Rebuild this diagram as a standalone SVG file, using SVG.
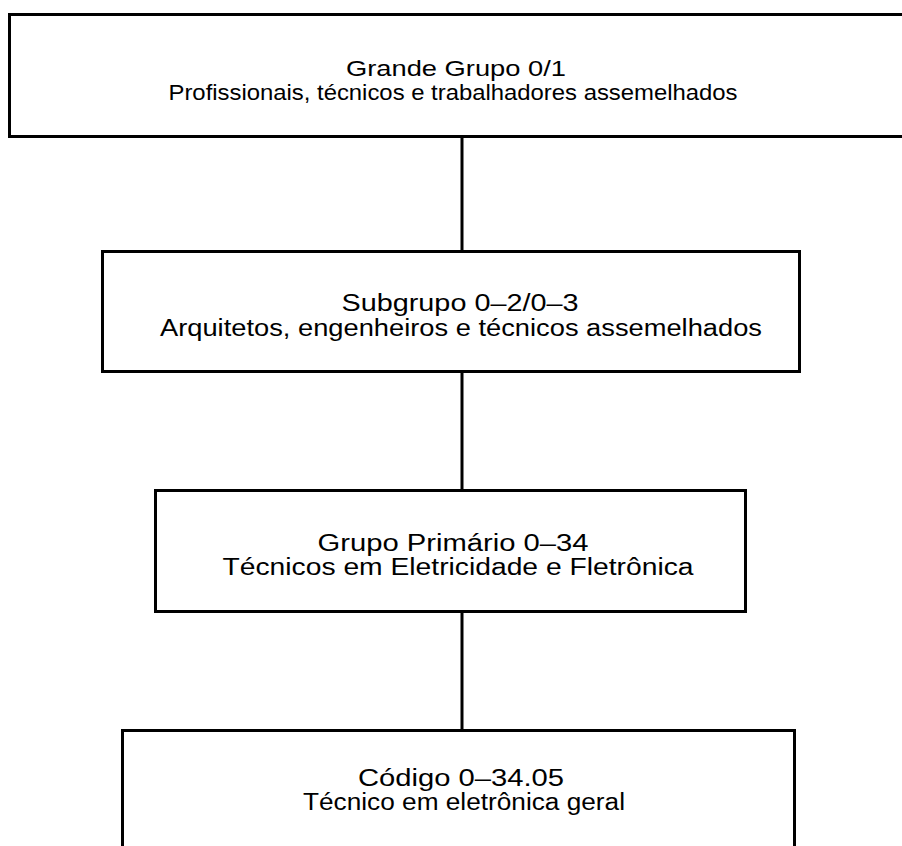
<svg xmlns="http://www.w3.org/2000/svg" width="902" height="846" viewBox="0 0 902 846">
  <style>
    .box { fill: #ffffff; stroke: #000000; stroke-width: 3; }
    .link { stroke: #000000; stroke-width: 3; fill: none; }
    .t { font-family: "Liberation Sans", Arial, sans-serif; font-size: 23px; fill: #000000; text-anchor: middle; }
    .t1 { font-size: 22px; }
  </style>
  <rect width="902" height="846" fill="#ffffff"/>

  <!-- vertical links between levels -->
  <g id="connectors">
    <line class="link" x1="462" y1="137" x2="462" y2="251"/>
    <line class="link" x1="462" y1="372" x2="462" y2="490"/>
    <line class="link" x1="462" y1="612" x2="462" y2="730"/>
  </g>

  <g id="grande-grupo">
    <rect class="box" x="9.5" y="14.5" width="900" height="122"/>
    <text class="t t1" x="456" y="76" textLength="220" lengthAdjust="spacingAndGlyphs">Grande Grupo 0/1</text>
    <text class="t t1" x="453" y="100" textLength="569" lengthAdjust="spacingAndGlyphs">Profissionais, técnicos e trabalhadores assemelhados</text>
  </g>

  <g id="subgrupo">
    <rect class="box" x="102.5" y="251.5" width="697" height="120"/>
    <text class="t" x="460" y="311" textLength="237" lengthAdjust="spacingAndGlyphs">Subgrupo 0–2/0–3</text>
    <text class="t" x="461" y="336" textLength="602" lengthAdjust="spacingAndGlyphs">Arquitetos, engenheiros e técnicos assemelhados</text>
  </g>

  <g id="grupo-primario">
    <rect class="box" x="155.5" y="490.5" width="590" height="121"/>
    <text class="t" x="453" y="551" textLength="271" lengthAdjust="spacingAndGlyphs">Grupo Primário 0–34</text>
    <text class="t" x="458" y="575" textLength="471" lengthAdjust="spacingAndGlyphs">Técnicos em Eletricidade e Fletrônica</text>
  </g>

  <g id="codigo">
    <rect class="box" x="122.5" y="730.5" width="672" height="130"/>
    <text class="t" x="461" y="786" textLength="206" lengthAdjust="spacingAndGlyphs">Código 0–34.05</text>
    <text class="t" x="464" y="810" textLength="322" lengthAdjust="spacingAndGlyphs">Técnico em eletrônica geral</text>
  </g>
</svg>
